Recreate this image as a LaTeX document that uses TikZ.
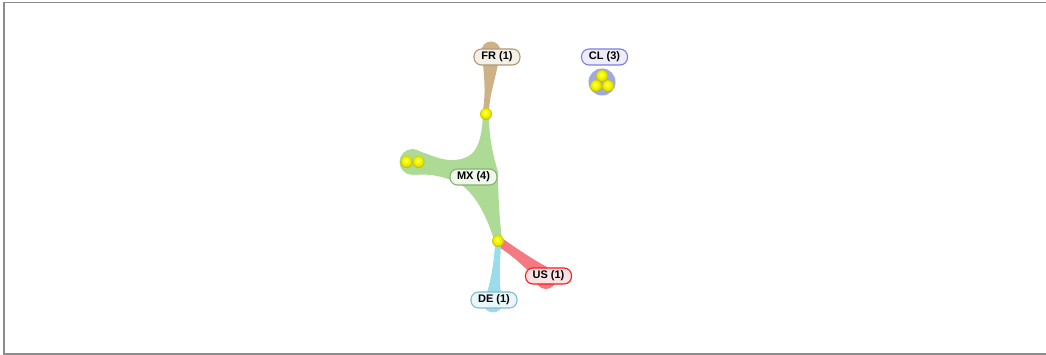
\documentclass[tikz,border=0pt]{standalone}
\usepackage{fontspec}
\setmainfont{Liberation Sans}
\pgfdeclareradialshading{yball}{\pgfpoint{-4bp}{7bp}}{%
  color(0bp)=(yellow!30!white); color(6bp)=(yellow!95!white); color(18bp)=(yellow!92!black);
  color(30bp)=(yellow!65!black); color(40bp)=(yellow!40!black); color(50bp)=(yellow!35!black)}
\begin{document}
\begin{tikzpicture}[x=1pt,y=-1pt,
  lbl/.style={draw, rounded corners=7.5pt, minimum width=46pt, minimum height=16pt, inner sep=0pt, line width=1.1pt,
    font=\fontsize{11}{13}\selectfont\bfseries},
  ball/.style={shading=yball},
  fan/.style={draw=none}]
\definecolor{frc}{HTML}{CDB287}
\definecolor{mxc}{HTML}{ADDB95}
\definecolor{usc}{HTML}{F27A80}
\definecolor{dec}{HTML}{9ADCE9}
\definecolor{clc}{HTML}{A2A7DD}
\useasboundingbox (0,0) rectangle (1046,355);
\fill[white] (0,0) rectangle (1046,355);
\draw[gray!90, line width=1.6pt] (1046,2.5) -- (3.7,2.5) -- (3.7,353.8) -- (1046,353.8);

% ball positions
\coordinate (b1) at (486,114);
\coordinate (b2) at (498,241);
\coordinate (c1) at (406.5,162);
\coordinate (c2) at (418.5,162);
\coordinate (k1) at (602,76);
\coordinate (k2) at (596,86);
\coordinate (k3) at (608,86);

% FR fan
\fill[frc] (491,51) circle (9.5);
\fill[frc] (482,52) .. controls (484,75) and (486,92) .. (483,110) -- (489,110)
  .. controls (490,92) and (497,75) .. (500,52) -- cycle;

% MX fan
\fill[mxc] (412.5,162) circle (13);
\fill[mxc] (483,116) .. controls (481,145) and (476,158) .. (455,160)
  .. controls (440,161) and (430,154) .. (415,150) -- (415,175)
  .. controls (432,173) and (448,178) .. (460,184)
  .. controls (477,195) and (488,220) .. (494,240) -- (502,240)
  .. controls (499,215) and (498,190) .. (498,172)
  .. controls (494,158) and (489,140) .. (489,116) -- cycle;

% US fan
\fill[usc] (546,279) circle (10);
\fill[usc] (500,237) .. controls (515,247) and (530,258) .. (547,267) -- (546,289)
  .. controls (528,270) and (512,254) .. (495,245) -- cycle;

% DE fan
\fill[dec] (493,303) circle (9.5);
\fill[dec] (495,244) .. controls (494,265) and (490,285) .. (484,302) -- (503,302)
  .. controls (498,285) and (500,265) .. (501,244) -- cycle;

% CL disc
\fill[clc] (602,82) circle (13.5);

% balls
\foreach \p in {b1,b2,c1,c2,k1,k2,k3} \shade[ball] (\p) circle (6);

% labels
\node[lbl, draw=frc!85!black, fill=frc!20] (fr) at (497,57) {FR (1)};
\node[lbl, draw=clc!75!blue, fill=clc!20] (cl) at (604.5,57) {CL (3)};
\node[lbl, draw=mxc!80!black, fill=mxc!20, minimum width=47pt] (mx) at (473.5,177) {MX (4)};
\node[lbl, draw=red!80!usc, fill=usc!22] (us) at (548.5,276) {US (1)};
\node[lbl, draw=dec!85!black, fill=dec!22] (de) at (494,300) {DE (1)};
\end{tikzpicture}
\end{document}
